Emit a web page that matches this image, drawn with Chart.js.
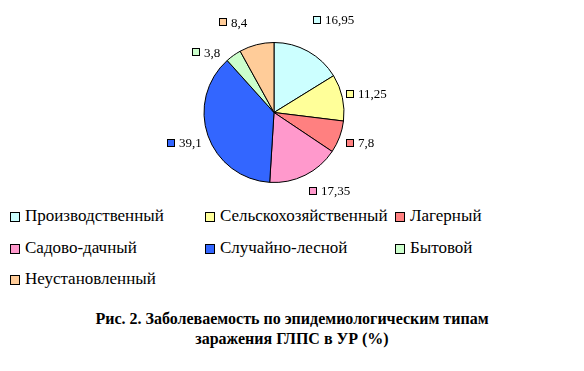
<!DOCTYPE html>
<html>
<head>
<meta charset="utf-8">
<script src="https://cdn.jsdelivr.net/npm/chart.js@4"></script>
<style>
  body { margin: 0; background: #fff; width: 584px; height: 371px; overflow: hidden; font-family: "Liberation Serif", "Times New Roman", serif; }
  #wrap { position: absolute; left: 0; top: 0; width: 584px; height: 205px; }
  #legend { position: absolute; left: 0; top: 206px; width: 584px; height: 95px; }
  .item { position: absolute; font-size: 17px; color: #000; white-space: nowrap; line-height: 20px; }
  .item span.box { display: inline-block; width: 10px; height: 10px; border: 1px solid #000; box-sizing: border-box; margin-right: 5px; vertical-align: -1px; }
  #caption { position: absolute; left: 0; top: 309px; width: 584px; text-align: center; font-weight: bold; font-size: 16px; line-height: 20px; color: #000; }
</style>
</head>
<body>
<div id="wrap"><canvas id="pie"></canvas></div>
<div id="legend"></div>
<div id="caption">Рис. 2. Заболеваемость по эпидемиологическим типам<br>заражения ГЛПС в УР (%)</div>
<script>
// data
const categories = ['Производственный', 'Сельскохозяйственный', 'Лагерный', 'Садово-дачный', 'Случайно-лесной', 'Бытовой', 'Неустановленный'];
const values = [16.95, 11.25, 7.8, 17.35, 39.1, 3.8, 8.4];
const valueLabels = ['16,95', '11,25', '7,8', '17,35', '39,1', '3,8', '8,4'];
const colors = ['#CCFFFF', '#FFFF99', '#FF8080', '#FF99CC', '#3366FF', '#CCFFCC', '#FFCC99'];

// label placement tweaks (degrees, px) to follow the original's label layout
const labelTurn = [3.5, 1, -1, -9, 0.5, -13, -10];
const labelPush = [16, 0, -3, 2, 1, -3, 5];

const serif = '"Liberation Serif", "Times New Roman", serif';

// labels outside the slices with a small colour square
const outsideLabels = {
    id: 'outsideLabels',
    afterDatasetsDraw(chart) {
        const ctx = chart.ctx;
        const meta = chart.getDatasetMeta(0);
        ctx.save();
        ctx.font = '13px ' + serif;
        ctx.textBaseline = 'middle';
        meta.data.forEach((arc, i) => {
            const mid = (arc.startAngle + arc.endAngle) / 2 + labelTurn[i] * Math.PI / 180;
            const dist = arc.outerRadius + 24 + labelPush[i];
            const cx = arc.x + Math.cos(mid) * dist;
            const cy = arc.y + Math.sin(mid) * dist;
            const text = valueLabels[i];
            const w = 8 + 4 + ctx.measureText(text).width;
            const left = Math.round(cx - w / 2);
            const top = Math.round(cy - 4);
            ctx.fillStyle = colors[i];
            ctx.fillRect(left, top, 8, 8);
            ctx.strokeStyle = '#000';
            ctx.lineWidth = 1;
            ctx.strokeRect(left + 0.5, top + 0.5, 7, 7);
            ctx.fillStyle = '#000';
            ctx.fillText(text, left + 12, cy + 1);
        });
        ctx.restore();
    }
};

const chart = new Chart(document.getElementById('pie'), {
    type: 'pie',
    data: {
        labels: categories,
        datasets: [{
            data: values,
            backgroundColor: colors,
            borderColor: '#000',
            borderWidth: 1,
        }]
    },
    options: {
        responsive: true,
        maintainAspectRatio: false,
        animation: false,
        layout: { padding: { top: 42, bottom: 22, left: 0, right: 36 } },
        plugins: {
            legend: { display: false },
            tooltip: { enabled: false }
        }
    },
    plugins: [outsideLabels]
});

// legend in three aligned columns
const legend = document.getElementById('legend');
const colX = [10, 205, 395];
categories.forEach((name, i) => {
    const el = document.createElement('div');
    el.className = 'item';
    el.style.left = colX[i % 3] + 'px';
    el.style.top = (Math.floor(i / 3) * 31.5) + 'px';
    el.innerHTML = '<span class="box" style="background:' + colors[i] + '"></span>' + name;
    legend.appendChild(el);
});
</script>
</body>
</html>
